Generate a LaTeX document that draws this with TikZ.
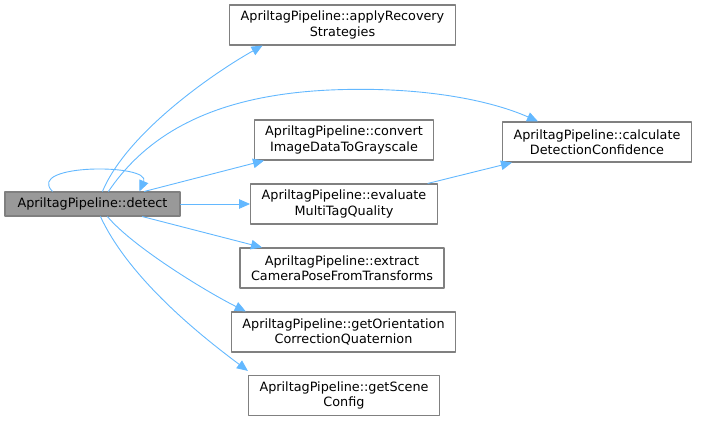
\documentclass[tikz,border=0pt]{standalone}
\usepackage{fontspec}
\setmainfont{DejaVu Sans}
\usepackage{xcolor}
\usetikzlibrary{arrows.meta}

\definecolor{edgeblue}{HTML}{63B8FF}
\definecolor{boxgray}{HTML}{808080}
\definecolor{curfill}{HTML}{999999}

\begin{document}
\begin{tikzpicture}[
		x=1pt, y=-1pt,
		line cap=round, line join=round,
		fn/.style={draw=boxgray, line width=1.2pt, fill=white, align=center,
				font=\fontsize{12.8}{15.5}\selectfont,
				inner xsep=11pt, inner ysep=0pt, minimum height=40pt},
		cur/.style={fn, fill=curfill, minimum height=24pt},
		call/.style={draw=edgeblue, line width=0.9pt,
				-{Triangle[length=11pt,width=9.5pt]}}]

	\useasboundingbox (0,0) rectangle (704,421);

	% ---- nodo chiamante ----
	\node[cur, minimum width=175pt] (detect) at (92.5,204) {ApriltagPipeline::detect};

	% ---- funzioni chiamate ----
	\node[fn] (apply)   at (342.5,25)  {ApriltagPipeline::applyRecovery\\Strategies};
	\node[fn] (convert) at (344,140)   {ApriltagPipeline::convert\\ImageDataToGrayscale};
	\node[fn] (eval)    at (344,204)   {ApriltagPipeline::evaluate\\MultiTagQuality};
	\node[fn] (extract) at (342,268)   {ApriltagPipeline::extract\\CameraPoseFromTransforms};
	\node[fn] (orient)  at (343.5,332) {ApriltagPipeline::getOrientation\\CorrectionQuaternion};
	\node[fn] (scene)   at (344,395.5) {ApriltagPipeline::getScene\\Config};
	\node[fn] (calc)    at (597,142)   {ApriltagPipeline::calculate\\DetectionConfidence};

	% ---- chiamate ----
	\draw[call] ([xshift=-40]detect.north) .. controls +(-28,-28) and +(12,-28) .. ([xshift=47]detect.north);
	\draw[call] ([xshift=10]detect.north) .. controls +(25,-60) and +(-45,25) .. ([xshift=-80]apply.south);
	\draw[call] ([xshift=16]detect.north) .. controls (150,130) and (220,95) .. (330,90)
		.. controls (420,86) and (490,100) .. ([xshift=-59]calc.north);
	\draw[call] ([xshift=52]detect.north) -- ([xshift=-80]convert.south);
	\draw[call] (detect.east) -- (eval.west);
	\draw[call] ([xshift=-10]eval.north east) -- ([xshift=10]calc.south west);
	\draw[call] ([xshift=50]detect.south) -- ([xshift=-80]extract.north);
	\draw[call] ([xshift=15]detect.south) .. controls +(25,30) and +(-40,-20) .. ([xshift=15]orient.north west);
	\draw[call] ([xshift=8]detect.south) .. controls +(30,65) and +(-40,-30) .. ([yshift=4]scene.north west);

\end{tikzpicture}
\end{document}
